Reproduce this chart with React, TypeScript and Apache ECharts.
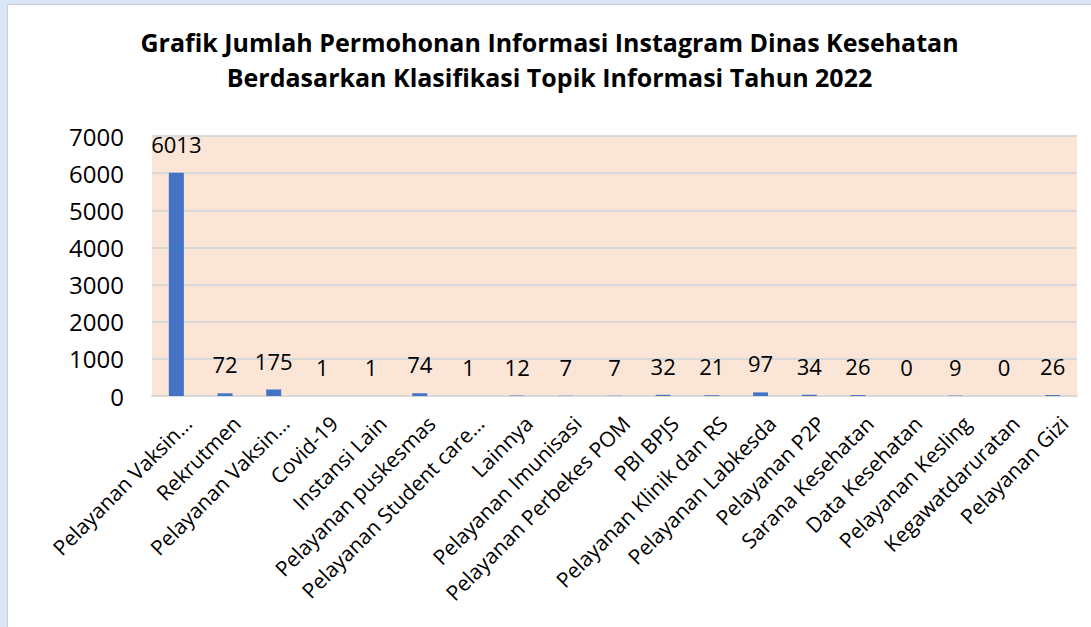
import React, { useEffect, useRef } from "react";
import * as echarts from "echarts";

const titleLines = [
  "Grafik Jumlah Permohonan Informasi Instagram Dinas Kesehatan",
  "Berdasarkan Klasifikasi Topik Informasi Tahun 2022",
];

const categories = [
  "Pelayanan Vaksin…",
  "Rekrutmen",
  "Pelayanan Vaksin…",
  "Covid-19",
  "Instansi Lain",
  "Pelayanan puskesmas",
  "Pelayanan Student care…",
  "Lainnya",
  "Pelayanan Imunisasi",
  "Pelayanan Perbekes POM",
  "PBI BPJS",
  "Pelayanan Klinik dan RS",
  "Pelayanan Labkesda",
  "Pelayanan P2P",
  "Sarana Kesehatan",
  "Data Kesehatan",
  "Pelayanan Kesling",
  "Kegawatdaruratan",
  "Pelayanan Gizi",
];

const values = [6013, 72, 175, 1, 1, 74, 1, 12, 7, 7, 32, 21, 97, 34, 26, 0, 9, 0, 26];

const yTicks = { min: 0, max: 7000, interval: 1000 };

const FONT = "'Open Sans', 'Noto Sans', sans-serif";

export default function App() {
  const ref = useRef<HTMLDivElement>(null);

  useEffect(() => {
    if (!ref.current) return;
    const chart = echarts.init(ref.current, null, { renderer: "svg" });
    chart.setOption({
      animation: false,
      backgroundColor: "#ffffff",
      title: {
        text: titleLines.join("\n"),
        left: "center",
        top: 14,
        padding: [5, 0, 5, 10],
        textStyle: {
          fontFamily: FONT,
          fontWeight: "bold",
          fontSize: 25,
          lineHeight: 35,
          color: "#000000",
        },
      },
      grid: {
        left: 144,
        top: 131,
        right: 14,
        bottom: 231,
        show: true,
        backgroundColor: "#FBE5D6",
        borderWidth: 0,
      },
      xAxis: {
        type: "category",
        data: categories,
        axisLine: { show: true, lineStyle: { color: "#D9D9D9", width: 2 } },
        axisTick: { show: false },
        axisLabel: {
          interval: 0,
          rotate: 45,
          margin: 12,
          verticalAlign: "top",
          padding: [6, 0, 0, 0],
          fontFamily: FONT,
          fontSize: 21,
          color: "#000000",
        },
      },
      yAxis: {
        type: "value",
        min: yTicks.min,
        max: yTicks.max,
        interval: yTicks.interval,
        axisLine: { show: false },
        axisTick: { show: false },
        splitLine: { show: true, lineStyle: { color: "#D9D9D9", width: 2 } },
        axisLabel: {
          margin: 28,
          fontFamily: FONT,
          fontSize: 24,
          color: "#000000",
          formatter: (v: number) => String(v),
        },
      },
      series: [
        {
          type: "bar",
          data: values,
          barWidth: 15,
          itemStyle: { color: "#4472C4" },
          label: {
            show: true,
            position: "top",
            distance: 18,
            fontFamily: FONT,
            fontSize: 22,
            color: "#000000",
          },
        },
      ],
    });
    return () => chart.dispose();
  }, []);

  return (
    <div
      style={{
        position: "fixed",
        left: 0,
        top: 0,
        width: 1091,
        height: 627,
        background: "#DAE6F8",
        overflow: "hidden",
      }}
    >
      <div
        style={{
          position: "absolute",
          left: 7,
          top: 4,
          width: 1084,
          height: 623,
          background: "#ffffff",
          borderLeft: "1px solid #D0D0D0",
          borderTop: "1px solid #D0D0D0",
        }}
      >
        <div ref={ref} style={{ width: 1083, height: 622 }} />
      </div>
    </div>
  );
}
